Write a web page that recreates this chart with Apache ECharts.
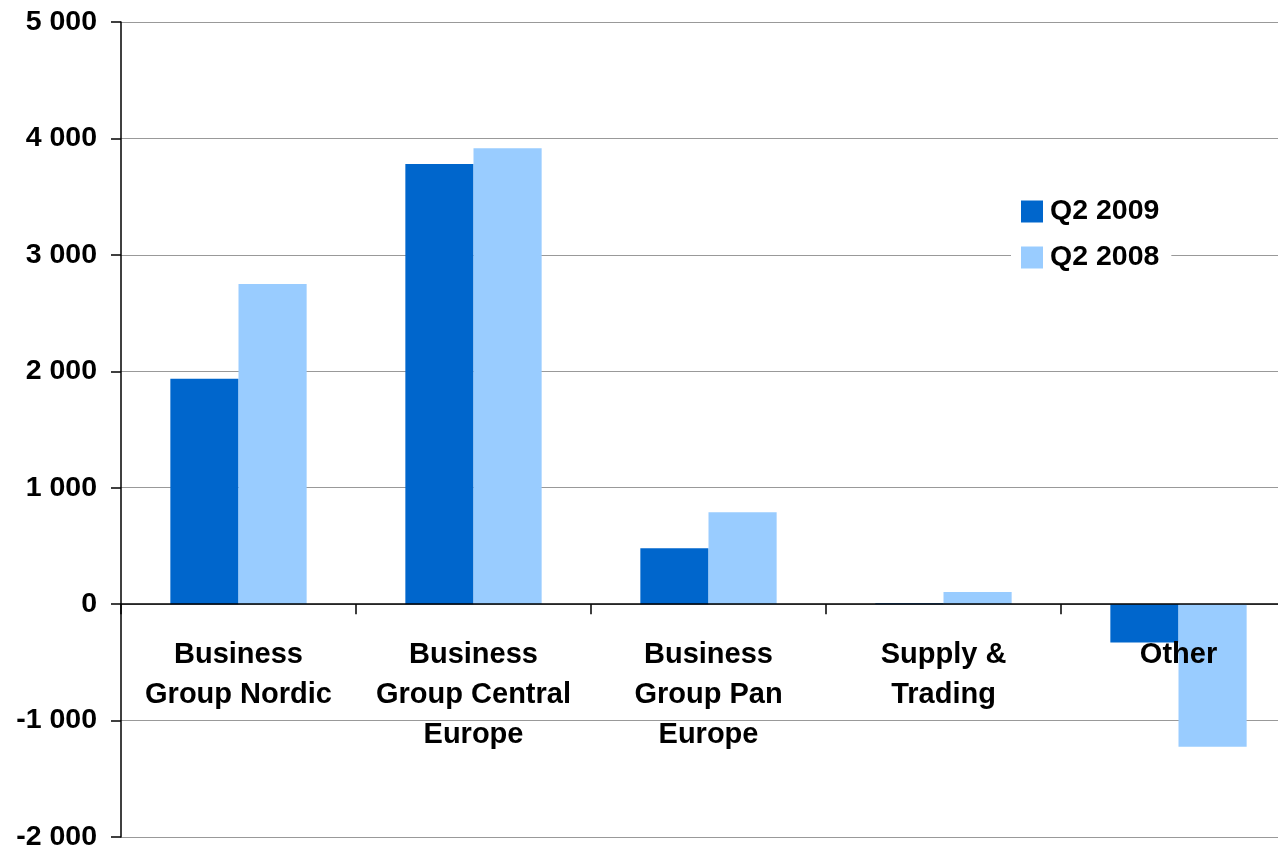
<!DOCTYPE html>
<html>
<head>
<meta charset="utf-8">
<script src="https://cdn.jsdelivr.net/npm/echarts@6/dist/echarts.min.js"></script>
<style>
  html, body { margin: 0; padding: 0; background: #fff; }
  #chart { width: 1278px; height: 850px; }
</style>
</head>
<body>
<div id="chart"></div>
<script>
// Business groups (x-axis categories)
const categories = [
  'Business\nGroup Nordic',
  'Business\nGroup Central\nEurope',
  'Business\nGroup Pan\nEurope',
  'Supply &\nTrading',
  'Other'
];
// Values per business group
const q2_2009 = [1935, 3780, 480, 8, -330];
const q2_2008 = [2750, 3915, 790, 105, -1225];
const seriesNames = ['Q2 2009', 'Q2 2008'];

// y-axis scale
const yMin = -2000;
const yMax = 5000;
const yStep = 1000;

const FONT = '"Liberation Sans", Arial, sans-serif';

// plot box
const GRID = { left: 121, top: 22, width: 1175, height: 815 };
// distance from the bottom edge up to the zero line
const zeroLift = GRID.height * (0 - yMin) / (yMax - yMin);

// "5000" -> "5 000"
function spaced(v) {
  const s = String(Math.abs(v)).replace(/\B(?=(\d{3})+(?!\d))/g, ' ');
  return (v < 0 ? '-' : '') + s;
}

const chart = echarts.init(document.getElementById('chart'), null, { renderer: 'canvas' });
chart.setOption({
  animation: false,
  backgroundColor: '#ffffff',
  grid: Object.assign({ containLabel: false, outerBoundsMode: 'none' }, GRID),
  legend: {
    orient: 'vertical',
    left: 1011,
    top: 189,
    padding: [8, 12, 8, 10],
    backgroundColor: '#ffffff',
    itemWidth: 22,
    itemHeight: 22,
    itemGap: 17,
    icon: 'rect',
    data: seriesNames,
    textStyle: {
      fontFamily: FONT, fontWeight: 'bold', fontSize: 28.5,
      color: '#000', lineHeight: 22, padding: [0, 0, 0, 2]
    }
  },
  xAxis: {
    type: 'category',
    data: categories,
    z: 3,
    position: 'bottom',
    offset: -zeroLift,
    axisLine: { onZero: false, lineStyle: { color: '#000', width: 1.5 } },
    axisTick: { show: true, length: 10, inside: false, lineStyle: { color: '#000', width: 1.5 } },
    axisLabel: {
      show: true,
      interval: 0,
      margin: 31,
      fontFamily: FONT, fontWeight: 'bold', fontSize: 29,
      lineHeight: 40, color: '#000', align: 'center'
    },
    splitLine: { show: false }
  },
  yAxis: {
    type: 'value',
    min: yMin,
    max: yMax,
    interval: yStep,
    axisLine: { show: true, lineStyle: { color: '#000', width: 1.5 } },
    axisTick: { show: true, length: 10, lineStyle: { color: '#000', width: 1.5 } },
    axisLabel: {
      margin: 24,
      fontFamily: FONT, fontWeight: 'bold', fontSize: 28.5, color: '#000',
      formatter: spaced
    },
    splitLine: { show: true, lineStyle: { color: '#999999', width: 1.2 } }
  },
  series: [
    {
      name: seriesNames[0],
      type: 'bar',
      data: q2_2009,
      barWidth: '29%',
      barGap: '0%',
      itemStyle: { color: '#0066CC' }
    },
    {
      name: seriesNames[1],
      type: 'bar',
      data: q2_2008,
      barWidth: '29%',
      barGap: '0%',
      itemStyle: { color: '#99CCFF' }
    }
  ]
});
</script>
</body>
</html>
